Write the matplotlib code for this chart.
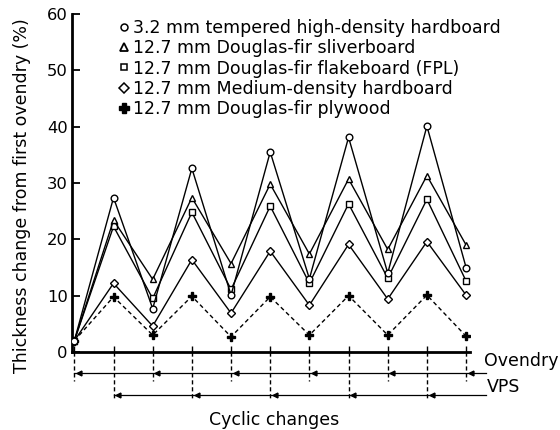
import numpy as np
import matplotlib
matplotlib.use("Agg")
import matplotlib.pyplot as plt
from matplotlib.lines import Line2D

plt.rcParams['font.family'] = ['DejaVu Sans']

# cycle steps: even = ovendry, odd = vacuum-pressure soak (VPS)
steps = np.arange(11)

hdh = [2, 27.4, 7.7, 32.6, 10.1, 35.5, 13.0, 38.1, 14.0, 40.1, 15.0]
sliver = [2, 23.4, 12.9, 27.4, 15.7, 29.8, 17.4, 30.7, 18.2, 31.3, 19.0]
flake = [2, 22.3, 9.5, 24.8, 11.1, 25.9, 12.2, 26.3, 13.1, 27.1, 12.6]
mdh = [2, 12.2, 4.6, 16.4, 6.9, 17.9, 8.3, 19.1, 9.4, 19.6, 10.1]
plywood = [2, 9.8, 3.0, 9.9, 2.7, 9.8, 3.0, 10.0, 3.0, 10.1, 2.8]

labels = ["3.2 mm tempered high-density hardboard",
          "12.7 mm Douglas-fir sliverboard",
          "12.7 mm Douglas-fir flakeboard (FPL)",
          "12.7 mm Medium-density hardboard",
          "12.7 mm Douglas-fir plywood"]

fig = plt.figure(figsize=(5.6, 4.3), dpi=100)
ax = fig.add_axes([72/560, 78/430, 398/560, 338/430])

fs = 12.5
open_kw = dict(color='black', lw=1.0, mfc='white', mec='black', mew=1.0, ms=4.8)

# draw lower lines first so upper markers sit on top
ax.plot(steps, plywood, ls=(0, (3, 2.2)), color='black', lw=1.0,
        marker='P', ms=6, mfc='black', mec='black', zorder=3)
ax.plot(steps, mdh, marker='D', **{**open_kw, 'ms': 4.3}, zorder=3)
ax.plot(steps, flake, marker='s', **open_kw, zorder=4)
ax.plot(steps, sliver, marker='^', **open_kw, zorder=4)
ax.plot(steps, hdh, marker='o', **open_kw, zorder=5)

ax.set_xlim(-0.06, 10.1)
ax.set_ylim(0, 60)
ax.set_yticks(np.arange(0, 61, 10))
ax.set_xticks(steps)
ax.set_xticklabels([])
ax.tick_params(axis='y', direction='in', length=6, width=1.3, labelsize=11.8, pad=3)
ax.tick_params(axis='x', direction='in', length=4, width=1.0)
for s in ['top', 'right']:
    ax.spines[s].set_visible(False)
for s in ['left', 'bottom']:
    ax.spines[s].set_linewidth(2.0)

ax.text(-0.126, 0.462, "Thickness change from first ovendry (%)", rotation=90,
        ha='center', va='center', fontsize=fs, transform=ax.transAxes)

# legend
handles = [Line2D([], [], ls='none', marker='o', mfc='white', mec='black', mew=1.1, ms=5),
           Line2D([], [], ls='none', marker='^', mfc='white', mec='black', mew=1.3, ms=6),
           Line2D([], [], ls='none', marker='s', mfc='white', mec='black', mew=1.1, ms=5),
           Line2D([], [], ls='none', marker='D', mfc='white', mec='black', mew=1.1, ms=5),
           Line2D([], [], ls='none', marker='P', mfc='black', mec='black', ms=7)]
fig.legend(handles, labels, loc='upper left', bbox_to_anchor=(120/560, 1 - 19/430),
           frameon=False, fontsize=fs, handlelength=0.5, handletextpad=0.25,
           labelspacing=0.13, borderpad=0, borderaxespad=0)

# cycle annotation below the axis
xt = ax.get_xaxis_transform()
ovendry_steps = steps[::2]
vps_steps = steps[1::2]
row1, row2 = -0.062, -0.127
for x in ovendry_steps:
    ax.plot([x, x], [0, -0.087], transform=xt, clip_on=False, color='black',
            lw=1.0, ls=(0, (3, 2)))
for x in vps_steps:
    ax.plot([x, x], [0, -0.14], transform=xt, clip_on=False, color='black',
            lw=1.0, ls=(0, (3, 2)))
ax.plot([ovendry_steps[0], 10.52], [row1, row1], transform=xt, clip_on=False,
        color='black', lw=0.9)
ax.plot([vps_steps[0], 10.52], [row2, row2], transform=xt, clip_on=False,
        color='black', lw=0.9)
ax.plot(ovendry_steps + 0.12, [row1] * len(ovendry_steps), transform=xt, clip_on=False,
        ls='none', marker='<', ms=3.5, color='black')
ax.plot(vps_steps + 0.12, [row2] * len(vps_steps), transform=xt, clip_on=False,
        ls='none', marker='<', ms=3.5, color='black')

ax.text(10.45, -0.026, "Ovendry", transform=xt, ha='left', va='center', fontsize=fs)
ax.text(10.52, -0.104, "VPS", transform=xt, ha='left', va='center', fontsize=fs)
ax.text(0.508, -0.201, "Cyclic changes", transform=ax.transAxes, ha='center',
        va='center', fontsize=fs)

fig.savefig("out.png", dpi=100)
